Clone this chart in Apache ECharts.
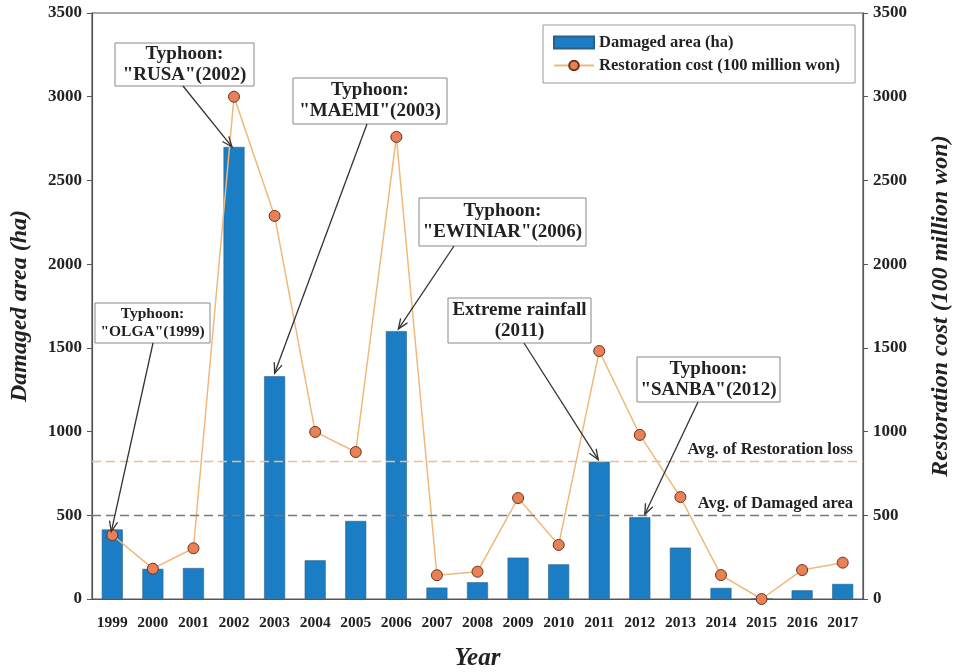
<!DOCTYPE html>
<html>
<head>
<meta charset="utf-8">
<script src="https://cdn.jsdelivr.net/npm/echarts@6/dist/echarts.min.js"></script>
<style>
  html, body { margin: 0; padding: 0; background: #fff; overflow: hidden; }
  #main { width: 956px; height: 672px; }
</style>
</head>
<body>
<div id="main"></div>
<script>
'use strict';

// data
const years = ['1999', '2000', '2001', '2002', '2003', '2004', '2005', '2006', '2007', '2008',
    '2009', '2010', '2011', '2012', '2013', '2014', '2015', '2016', '2017'];
const damagedArea = [415, 180, 185, 2700, 1330, 231, 466, 1600, 68, 100,
    247, 207, 820, 488, 307, 66, 0, 52, 90];
const restorationCost = [382, 181, 303, 3000, 2288, 998, 878, 2760, 142, 163,
    603, 323, 1481, 980, 609, 143, 0, 173, 217];
const yTicks = [0, 500, 1000, 1500, 2000, 2500, 3000, 3500];

// callouts: text, box (px), x where the arrow leaves the box, year index it points to, tip offset
const callouts = [
    {text: 'Typhoon:\n"OLGA"(1999)', box: [95, 303, 115, 40], from: 153, idx: 0, dx: -1, dy: 2, size: 15.5},
    {text: 'Typhoon:\n"RUSA"(2002)', box: [115, 43, 139, 43], from: 183, idx: 3, dx: -2, dy: 0, size: 19},
    {text: 'Typhoon:\n"MAEMI"(2003)', box: [293, 78, 154, 46], from: 367, idx: 4, dx: 0, dy: -3, size: 19},
    {text: 'Typhoon:\n"EWINIAR"(2006)', box: [419, 198, 167, 48], from: 454, idx: 7, dx: 2, dy: -2, size: 19},
    {text: 'Extreme rainfall\n(2011)', box: [448, 298, 143, 45], from: 524, idx: 12, dx: -1, dy: -2, size: 19},
    {text: 'Typhoon:\n"SANBA"(2012)', box: [637, 357, 143, 45], from: 698, idx: 13, dx: 5, dy: -3, size: 19}
];

const FONT = '"Liberation Serif", "Times New Roman", serif';

const chart = echarts.init(document.getElementById('main'));

const yAxisBase = {
    type: 'value',
    min: yTicks[0],
    max: yTicks[yTicks.length - 1],
    interval: yTicks[1] - yTicks[0],
    nameLocation: 'middle',
    nameRotate: 90,
    nameTextStyle: {fontFamily: FONT, fontSize: 24, fontWeight: 'bold', fontStyle: 'italic', color: '#222'},
    axisLine: {show: true, lineStyle: {color: '#555', width: 1.2}},
    axisTick: {show: true, inside: false, length: 5, lineStyle: {color: '#555'}},
    axisLabel: {
        fontFamily: FONT, fontSize: 17, fontWeight: 'bold', color: '#222', margin: 10,
        formatter: function (v) { return String(v); }
    },
    splitLine: {show: false}
};

chart.setOption({
    animation: false,
    backgroundColor: '#fff',
    grid: {
        left: 92, right: 93, top: 13, bottom: 73,
        containLabel: false, outerBoundsMode: 'none',
        show: true, borderColor: '#555', borderWidth: 1.2
    },
    legend: {
        orient: 'vertical',
        left: 543,
        top: 25,
        padding: [9, 15, 9, 10],
        itemGap: 6,
        itemWidth: 40,
        itemHeight: 12,
        borderColor: '#999',
        borderWidth: 1,
        backgroundColor: '#fff',
        textStyle: {fontFamily: FONT, fontSize: 16.5, fontWeight: 'bold', color: '#222'},
        data: [
            {name: 'Damaged area (ha)', icon: 'rect'},
            {name: 'Restoration cost (100 million won)'}
        ]
    },
    xAxis: {
        type: 'category',
        data: years,
        name: 'Year',
        nameLocation: 'middle',
        nameGap: 47,
        nameTextStyle: {fontFamily: FONT, fontSize: 25, fontWeight: 'bold', fontStyle: 'italic', color: '#222'},
        axisLine: {lineStyle: {color: '#555', width: 1.2}},
        axisTick: {alignWithLabel: true, length: 5, lineStyle: {color: '#555'}},
        axisLabel: {fontFamily: FONT, fontSize: 15.5, fontWeight: 'bold', color: '#222', margin: 16}
    },
    yAxis: [
        Object.assign({}, yAxisBase, {name: 'Damaged area (ha)', nameGap: 60, position: 'left'}),
        Object.assign({}, yAxisBase, {name: 'Restoration cost (100 million won)', nameGap: 66, position: 'right'})
    ],
    series: [
        {
            name: 'Damaged area (ha)',
            type: 'bar',
            barWidth: 21,
            data: damagedArea,
            itemStyle: {color: '#1b7dc3', borderColor: '#2b5f88', borderWidth: 0.6},
            markLine: {
                silent: true,
                symbol: 'none',
                lineStyle: {color: '#7a7a7a', type: [9, 5], width: 1.4},
                label: {
                    position: 'insideEndTop',
                    formatter: 'Avg. of Damaged area',
                    fontFamily: FONT, fontSize: 16.5, fontWeight: 'bold', color: '#222',
                    distance: [10, 3]
                },
                data: [{type: 'average'}]
            },
            z: 2
        },
        {
            name: 'Restoration cost (100 million won)',
            type: 'line',
            yAxisIndex: 1,
            data: restorationCost,
            symbol: 'circle',
            symbolSize: 11,
            lineStyle: {color: '#f0b87a', width: 1.5},
            itemStyle: {color: '#ea8058', borderColor: '#6b3418', borderWidth: 1},
            markLine: {
                silent: true,
                symbol: 'none',
                lineStyle: {color: '#e8c08e', type: [9, 5], width: 1.4},
                label: {
                    position: 'insideEndTop',
                    formatter: 'Avg. of Restoration loss',
                    fontFamily: FONT, fontSize: 16.5, fontWeight: 'bold', color: '#222',
                    distance: [10, 3]
                },
                data: [{type: 'average'}]
            },
            z: 3
        }
    ]
});

// callout boxes + arrows, tips taken from the bar tops
const graphics = [];
callouts.forEach(function (c) {
    const b = c.box;
    graphics.push({
        type: 'rect',
        shape: {x: b[0], y: b[1], width: b[2], height: b[3]},
        style: {fill: '#fff', stroke: '#888', lineWidth: 1},
        z: 10
    });
    graphics.push({
        type: 'text',
        x: b[0] + b[2] / 2,
        y: b[1] + b[3] / 2,
        style: {
            text: c.text,
            font: 'bold ' + c.size + 'px ' + FONT,
            fill: '#222',
            align: 'center',
            verticalAlign: 'middle',
            lineHeight: c.size + 2
        },
        z: 11
    });
    const tip = chart.convertToPixel({xAxisIndex: 0, yAxisIndex: 0}, [c.idx, damagedArea[c.idx]]);
    const tx = tip[0] + c.dx, ty = tip[1] + c.dy;
    const sx = c.from, sy = b[1] + b[3];
    const ang = Math.atan2(ty - sy, tx - sx);
    const L = 11, W = 0.38;
    graphics.push({
        type: 'line',
        shape: {x1: sx, y1: sy, x2: tx, y2: ty},
        style: {stroke: '#333', lineWidth: 1.3},
        z: 11
    });
    graphics.push({
        type: 'polyline',
        shape: {points: [
            [tx - L * Math.cos(ang - W), ty - L * Math.sin(ang - W)],
            [tx, ty],
            [tx - L * Math.cos(ang + W), ty - L * Math.sin(ang + W)]
        ]},
        style: {stroke: '#333', lineWidth: 1.3, fill: null},
        z: 11
    });
});
chart.setOption({graphic: graphics});
</script>
</body>
</html>
